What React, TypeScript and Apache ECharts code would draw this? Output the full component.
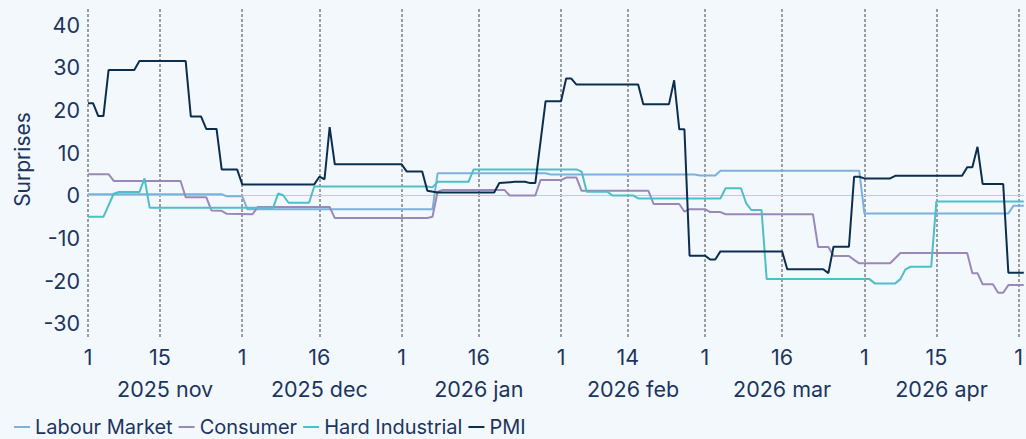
import React, { useEffect, useRef } from "react";
import * as echarts from "echarts";

// ---- axis definitions ----
const START = "2025-11-01";
const END = "2026-05-02";
const TICK_DATES = [
  "2025-11-01", "2025-11-15", "2025-12-01", "2025-12-16", "2026-01-01", "2026-01-16",
  "2026-02-01", "2026-02-14", "2026-03-01", "2026-03-16", "2026-04-01", "2026-04-15", "2026-05-01",
];
const MONTH_STARTS = ["2025-11-01", "2025-12-01", "2026-01-01", "2026-02-01", "2026-03-01", "2026-04-01"];
const MONTH_LABELS = ["2025 nov", "2025 dec", "2026 jan", "2026 feb", "2026 mar", "2026 apr"];
const Y_MIN = -33.4;
const Y_MAX = 43.7;

// ---- series data: [date, surprise] ----
const labourMarket: [string, number][] = [
  ["2025-11-01", 0.3], ["2025-11-27", 0.3], ["2025-11-28", -0.2], ["2025-12-01", -0.2],
  ["2025-12-02", -3.2], ["2026-01-07", -3.2], ["2026-01-08", 5.2], ["2026-01-29", 5.2],
  ["2026-01-30", 4.9], ["2026-02-27", 4.9], ["2026-02-28", 4.7], ["2026-03-03", 4.7],
  ["2026-03-04", 5.8], ["2026-03-31", 5.8], ["2026-04-01", -4.2], ["2026-04-29", -4.2],
  ["2026-04-30", -2.4], ["2026-05-02", -2.4],
];

const consumer: [string, number][] = [
  ["2025-11-01", 5.0], ["2025-11-05", 5.0], ["2025-11-06", 3.4], ["2025-11-19", 3.4],
  ["2025-11-20", -0.4], ["2025-11-24", -0.4], ["2025-11-25", -3.5], ["2025-11-27", -3.6],
  ["2025-11-28", -4.3], ["2025-12-03", -4.4], ["2025-12-04", -2.7], ["2025-12-18", -2.7],
  ["2025-12-19", -5.3], ["2026-01-06", -5.3], ["2026-01-07", -5.0], ["2026-01-08", 0.9],
  ["2026-01-09", 1.3], ["2026-01-21", 1.3], ["2026-01-22", 0], ["2026-01-27", 0],
  ["2026-01-28", 3.6], ["2026-02-01", 3.6], ["2026-02-02", 4.2], ["2026-02-04", 4.2],
  ["2026-02-05", 1.1], ["2026-02-18", 1.1], ["2026-02-19", -2.0], ["2026-02-24", -2.0],
  ["2026-02-25", -3.8], ["2026-02-26", -3.2], ["2026-03-01", -3.2], ["2026-03-02", -3.9],
  ["2026-03-04", -3.9], ["2026-03-05", -4.4], ["2026-03-22", -4.4], ["2026-03-23", -12.1],
  ["2026-03-25", -12.1], ["2026-03-26", -14.2], ["2026-03-29", -14.2], ["2026-03-30", -15.1],
  ["2026-03-31", -15.9], ["2026-04-06", -15.9], ["2026-04-08", -13.5], ["2026-04-21", -13.5],
  ["2026-04-22", -18.2], ["2026-04-23", -18.2], ["2026-04-24", -20.8], ["2026-04-26", -20.8],
  ["2026-04-27", -22.8], ["2026-04-28", -22.8], ["2026-04-29", -21.0], ["2026-05-02", -21.0],
];

const hardIndustrial: [string, number][] = [
  ["2025-11-01", -5.0], ["2025-11-04", -5.0], ["2025-11-06", 0.4], ["2025-11-07", 0.8],
  ["2025-11-11", 0.8], ["2025-11-12", 4.0], ["2025-11-13", -2.9], ["2025-12-07", -2.9],
  ["2025-12-08", 0.5], ["2025-12-09", 0], ["2025-12-10", -1.7], ["2025-12-14", -1.7],
  ["2025-12-15", 2.1], ["2026-01-06", 2.1], ["2026-01-07", 1.9], ["2026-01-08", 3.2],
  ["2026-01-14", 3.2], ["2026-01-15", 6.1], ["2026-02-04", 6.1], ["2026-02-05", 5.6],
  ["2026-02-06", 0.9], ["2026-02-10", 0.9], ["2026-02-11", 0], ["2026-02-15", 0],
  ["2026-02-16", -0.7], ["2026-03-04", -0.7], ["2026-03-05", 1.7], ["2026-03-08", 1.7],
  ["2026-03-09", -1.8], ["2026-03-10", -3.4], ["2026-03-12", -3.4], ["2026-03-13", -19.6],
  ["2026-04-02", -19.6], ["2026-04-03", -20.6], ["2026-04-07", -20.6], ["2026-04-08", -19.6],
  ["2026-04-09", -17.3], ["2026-04-10", -16.7], ["2026-04-14", -16.7], ["2026-04-15", -1.4],
  ["2026-05-02", -1.4],
];

const pmi: [string, number][] = [
  ["2025-11-01", 21.6], ["2025-11-02", 21.6], ["2025-11-03", 18.6], ["2025-11-04", 18.6],
  ["2025-11-05", 29.4], ["2025-11-10", 29.4], ["2025-11-11", 31.5], ["2025-11-20", 31.5],
  ["2025-11-21", 18.5], ["2025-11-23", 18.5], ["2025-11-24", 15.6], ["2025-11-26", 15.6],
  ["2025-11-27", 6.1], ["2025-11-30", 6.1], ["2025-12-01", 2.6], ["2025-12-15", 2.6],
  ["2025-12-16", 4.4], ["2025-12-17", 3.8], ["2025-12-18", 16.0], ["2025-12-19", 7.3],
  ["2026-01-01", 7.3], ["2026-01-02", 5.6], ["2026-01-05", 5.6], ["2026-01-06", 1.1],
  ["2026-01-08", 0.7], ["2026-01-19", 0.7], ["2026-01-20", 2.9], ["2026-01-23", 3.2],
  ["2026-01-25", 3.2], ["2026-01-26", 2.9], ["2026-01-27", 2.9], ["2026-01-29", 22.1],
  ["2026-02-01", 22.1], ["2026-02-02", 27.4], ["2026-02-03", 27.4], ["2026-02-04", 26.0],
  ["2026-02-16", 26.0], ["2026-02-17", 21.4], ["2026-02-22", 21.4], ["2026-02-23", 27.0],
  ["2026-02-24", 15.5], ["2026-02-25", 15.5], ["2026-02-26", -14.1], ["2026-03-01", -14.1],
  ["2026-03-02", -15.0], ["2026-03-03", -15.0], ["2026-03-04", -13.1], ["2026-03-16", -13.1],
  ["2026-03-17", -17.3], ["2026-03-24", -17.3], ["2026-03-25", -18.2], ["2026-03-26", -12.0],
  ["2026-03-29", -12.0], ["2026-03-30", 4.4], ["2026-03-31", 4.4], ["2026-04-01", 4.0],
  ["2026-04-06", 4.0], ["2026-04-07", 4.6], ["2026-04-20", 4.6], ["2026-04-21", 6.6],
  ["2026-04-22", 6.6], ["2026-04-23", 11.4], ["2026-04-24", 2.7], ["2026-04-28", 2.7],
  ["2026-04-29", -18.1], ["2026-05-02", -18.1],
];

const SERIES_NAMES = ["Labour Market", "Consumer", "Hard Industrial", "PMI"];
const SERIES_DATA = [labourMarket, consumer, hardIndustrial, pmi];
const SERIES_COLORS = ["#7db0dc", "#9a89b8", "#4cbfc9", "#0c2e4e"];

const TEXT = "#1c3560";
const FONT = "Inter, 'Open Sans', sans-serif";

function buildDays(): string[] {
  const out: string[] = [];
  const s = Date.parse(START + "T00:00:00Z");
  const e = Date.parse(END + "T00:00:00Z");
  for (let t = s; t <= e; t += 86400000) out.push(new Date(t).toISOString().slice(0, 10));
  return out;
}

export default function App() {
  const ref = useRef<HTMLDivElement>(null);
  useEffect(() => {
    if (!ref.current) return;
    const chart = echarts.init(ref.current, undefined, { renderer: "svg" });
    const days = buildDays();
    const tickSet = new Set(TICK_DATES);
    const monthMid = new Map<string, string>();
    MONTH_STARTS.forEach((m, i) => {
      const idx = days.indexOf(m);
      const next = i + 1 < MONTH_STARTS.length ? days.indexOf(MONTH_STARTS[i + 1]) : days.indexOf("2026-05-01");
      const mid = idx + Math.floor((next - idx) / 2);
      monthMid.set(days[mid], MONTH_LABELS[i]);
    });

    const series: any[] = SERIES_NAMES.map((name, i) => ({
      type: "line",
      name,
      xAxisIndex: 0,
      yAxisIndex: 0,
      data: SERIES_DATA[i],
      symbol: "none",
      lineStyle: { width: 2, color: SERIES_COLORS[i] },
      itemStyle: { color: SERIES_COLORS[i] },
      z: 3 + i,
      markLine:
        i === 0
          ? {
              silent: true,
              symbol: "none",
              label: { show: false },
              lineStyle: { color: "#a9d7e6", width: 1, type: "solid" },
              data: [{ yAxis: 0 }],
              z: 1,
            }
          : undefined,
    }));

    chart.setOption({
      animation: false,
      backgroundColor: "#f3f8fc",
      textStyle: { fontFamily: FONT },
      grid: { left: 88, right: 0, top: 9, bottom: 101, containLabel: false },
      legend: {
        data: SERIES_NAMES,
        left: 14,
        top: 417,
        icon: "rect",
        itemWidth: 16,
        itemHeight: 2,
        itemGap: 6,
        padding: 0,
        textStyle: { color: TEXT, fontSize: 20, fontFamily: FONT },
      },
      xAxis: [
        {
          type: "time",
          min: START,
          max: END,
          show: false,
        },
        {
          type: "category",
          data: days,
          boundaryGap: false,
          position: "bottom",
          axisLine: { show: false },
          axisTick: { show: false },
          axisLabel: {
            interval: (_i: number, v: string) => tickSet.has(v),
            formatter: (v: string) => String(parseInt(v.slice(8, 10), 10)),
            color: TEXT,
            fontSize: 21.5,
            fontFamily: FONT,
            margin: 8,
          },
          splitLine: {
            show: true,
            interval: (_i: number, v: string) => tickSet.has(v),
            lineStyle: { color: "#7f7f7f", width: 1.5, type: [3, 2] },
          },
        },
        {
          type: "category",
          data: days,
          boundaryGap: false,
          position: "bottom",
          offset: 32,
          axisLine: { show: false },
          axisTick: { show: false },
          splitLine: { show: false },
          axisLabel: {
            interval: (_i: number, v: string) => monthMid.has(v),
            formatter: (v: string) => monthMid.get(v) || "",
            color: TEXT,
            fontSize: 21.5,
            fontFamily: FONT,
            margin: 8,
          },
        },
      ],
      yAxis: {
        type: "value",
        min: Y_MIN,
        max: Y_MAX,
        splitNumber: 8,
        name: "Surprises",
        nameLocation: "middle",
        nameGap: 52,
        nameTextStyle: { color: TEXT, fontSize: 21, fontFamily: FONT, padding: [0, 0, 0, 28] },
        axisLine: { show: false },
        axisTick: { show: false },
        splitLine: { show: false },
        axisLabel: {
          showMinLabel: false,
          showMaxLabel: false,
          formatter: (v: number) => (Math.abs(v % 10) < 1e-9 ? String(Math.round(v)) : ""),
          color: TEXT,
          fontSize: 21.5,
          fontFamily: FONT,
          margin: 8,
        },
      },
      series,
    });
    return () => chart.dispose();
  }, []);
  return (
    <div
      ref={ref}
      style={{ position: "fixed", left: 0, top: 0, width: 1026, height: 439 }}
    />
  );
}
